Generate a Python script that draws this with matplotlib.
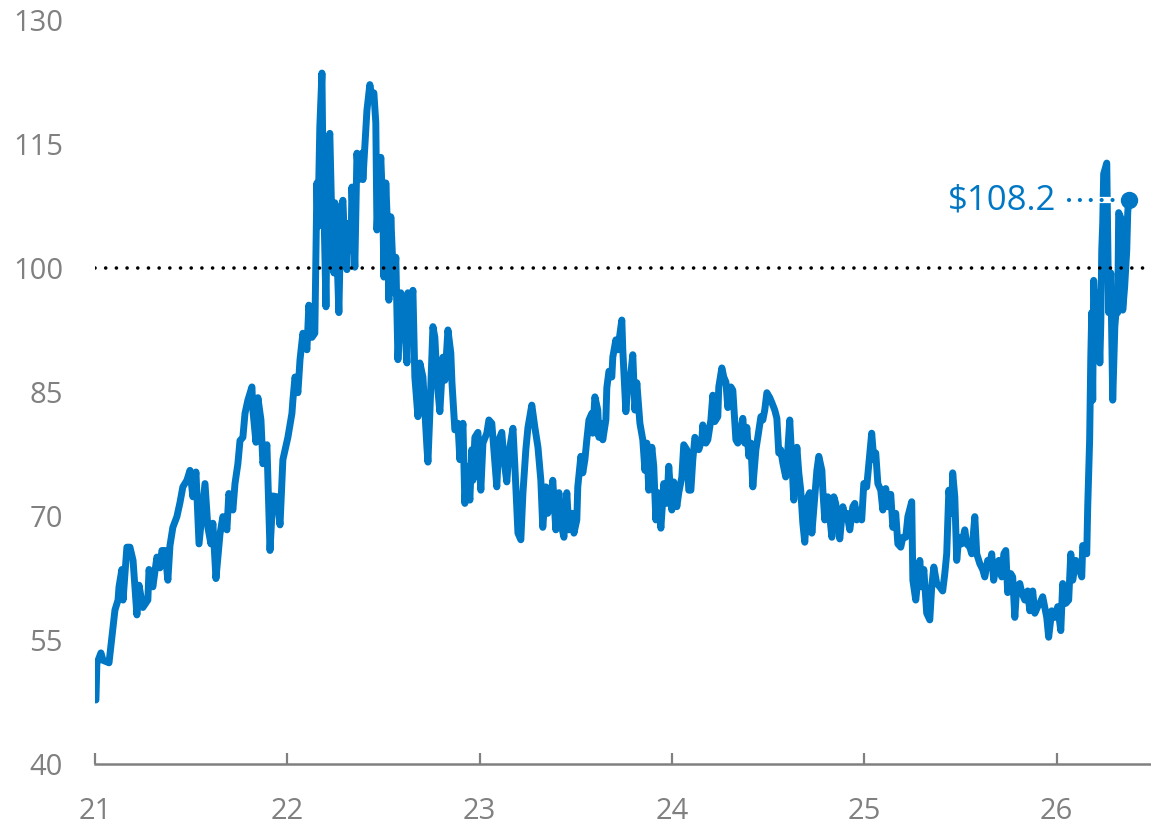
import numpy as np
import matplotlib
matplotlib.use("Agg")
import matplotlib.pyplot as plt

plt.rcParams['font.family'] = ['Open Sans', 'DejaVu Sans']

# price series (x in years, 21 = 2021)
years = [
    21.005, 21.010, 21.031, 21.042, 21.073, 21.088, 21.104, 21.120, 21.125, 21.140,
    21.146, 21.166, 21.182, 21.198, 21.218, 21.229, 21.249, 21.275, 21.281, 21.301,
    21.322, 21.338, 21.348, 21.364, 21.379, 21.390, 21.405, 21.426, 21.442, 21.457,
    21.478, 21.494, 21.509, 21.525, 21.541, 21.572, 21.587, 21.603, 21.613, 21.629,
    21.650, 21.665, 21.686, 21.696, 21.717, 21.728, 21.743, 21.754, 21.769, 21.780,
    21.795, 21.816, 21.821, 21.837, 21.847, 21.863, 21.873, 21.894, 21.910, 21.925,
    21.946, 21.962, 21.977, 22.003,
    22.024, 22.029, 22.040, 22.055, 22.066, 22.081, 22.102, 22.112, 22.128, 22.143,
    22.154, 22.159, 22.169, 22.180, 22.185, 22.201, 22.211, 22.221, 22.232, 22.242,
    22.247, 22.258, 22.268, 22.279, 22.289, 22.299, 22.310, 22.315, 22.331, 22.336,
    22.351, 22.362, 22.372, 22.388, 22.393, 22.403, 22.414, 22.429, 22.440, 22.450,
    22.460, 22.466, 22.476, 22.486, 22.497, 22.502, 22.512, 22.518, 22.528, 22.538,
    22.549, 22.554, 22.564, 22.575, 22.590, 22.601, 22.622, 22.627, 22.637, 22.653,
    22.663, 22.679, 22.689, 22.705, 22.715, 22.726, 22.731, 22.741, 22.757, 22.767,
    22.778, 22.793, 22.809, 22.819, 22.835, 22.850, 22.856, 22.871, 22.887, 22.897,
    22.913, 22.923, 22.933,
    22.949, 22.959, 22.965, 22.975, 22.991, 23.006, 23.017, 23.037, 23.048, 23.063,
    23.074, 23.089, 23.100, 23.115, 23.126, 23.141, 23.152, 23.173, 23.183, 23.199,
    23.214, 23.225, 23.240, 23.251, 23.271, 23.287, 23.303, 23.318, 23.328, 23.344,
    23.354, 23.370, 23.380, 23.396, 23.412, 23.427, 23.438, 23.453, 23.464, 23.479,
    23.490, 23.505, 23.510, 23.526, 23.536, 23.547, 23.557, 23.568, 23.583, 23.588,
    23.599, 23.614, 23.620, 23.630, 23.640, 23.656, 23.661, 23.672, 23.687, 23.692,
    23.708, 23.718, 23.739, 23.744, 23.760, 23.770, 23.786, 23.796, 23.807, 23.817,
    23.833, 23.848, 23.859, 23.869, 23.879, 23.895, 23.905, 23.916, 23.926, 23.942,
    23.957, 23.973, 23.983, 23.999, 24.009, 24.025, 24.035, 24.051, 24.061, 24.077,
    24.087, 24.098, 24.108, 24.119, 24.129, 24.139, 24.155, 24.160, 24.176, 24.186,
    24.202, 24.212, 24.222, 24.238, 24.243, 24.259, 24.269, 24.280, 24.290, 24.306,
    24.316, 24.332, 24.342, 24.358, 24.368, 24.378, 24.389, 24.399, 24.410, 24.420,
    24.436, 24.446, 24.462, 24.472, 24.482, 24.493, 24.508, 24.519, 24.534, 24.545,
    24.555, 24.565, 24.576, 24.591, 24.602, 24.612, 24.623, 24.633, 24.649, 24.659,
    24.669, 24.680, 24.690, 24.706, 24.716, 24.727, 24.742, 24.753, 24.763, 24.779,
    24.784, 24.794, 24.810, 24.820, 24.831, 24.841, 24.851, 24.862, 24.872, 24.888,
    24.898, 24.909, 24.924, 24.940, 24.950, 24.960,
    24.976, 24.986, 24.997, 25.012, 25.023, 25.038, 25.049, 25.059, 25.070, 25.085,
    25.096, 25.111, 25.122, 25.137, 25.148, 25.163, 25.174, 25.189, 25.200, 25.215,
    25.226, 25.246, 25.252, 25.267, 25.278, 25.288, 25.298, 25.309, 25.324, 25.340,
    25.350, 25.361, 25.376, 25.392, 25.407, 25.418, 25.428, 25.439, 25.454, 25.459,
    25.470, 25.480, 25.491, 25.506, 25.522, 25.532, 25.548, 25.558, 25.574, 25.584,
    25.600, 25.615, 25.626, 25.641, 25.652, 25.662, 25.672, 25.688, 25.699, 25.714,
    25.725, 25.735, 25.745, 25.761, 25.771, 25.782, 25.792, 25.808, 25.818, 25.834,
    25.849, 25.860, 25.875, 25.886, 25.901,
    25.912, 25.927, 25.948, 25.958, 25.974, 25.990, 26.005, 26.021, 26.031, 26.047,
    26.062, 26.073, 26.083, 26.099, 26.114, 26.130, 26.135, 26.156, 26.161, 26.171,
    26.177, 26.182, 26.187, 26.192, 26.203, 26.213, 26.224, 26.229, 26.234, 26.239,
    26.244, 26.260, 26.265, 26.270, 26.281, 26.286, 26.291, 26.302, 26.312, 26.317,
    26.322, 26.338, 26.343, 26.353, 26.364, 26.369, 26.374,
]
prices = [
    47.7, 52.1, 53.4, 52.5, 52.2, 55.3, 58.6, 59.8, 61.4, 63.5,
    59.8, 66.2, 66.2, 64.6, 58.0, 61.6, 58.9, 59.8, 63.5, 61.4,
    65.0, 63.7, 65.8, 65.8, 62.2, 66.4, 68.6, 69.9, 71.6, 73.5,
    74.3, 75.5, 72.3, 75.3, 66.6, 73.9, 68.6, 66.6, 69.1, 62.4,
    67.8, 69.9, 68.3, 72.7, 70.7, 73.9, 76.3, 79.1, 79.5, 82.4,
    84.0, 85.6, 82.8, 78.9, 84.3, 81.6, 76.3, 78.6, 65.8, 72.4,
    72.3, 68.9, 76.8, 79.5,
    82.4, 84.0, 86.8, 84.9, 88.9, 92.1, 90.1, 95.5, 91.6, 92.1,
    110.3, 105.0, 117.1, 123.6, 113.1, 95.3, 114.6, 116.3, 105.0, 99.4,
    107.9, 101.8, 94.6, 107.0, 108.2, 102.2, 99.8, 105.4, 102.2, 109.8,
    100.1, 113.9, 110.7, 113.9, 110.7, 114.6, 119.1, 122.2, 120.7, 121.2,
    117.6, 104.6, 109.8, 113.4, 106.7, 98.9, 110.3, 106.7, 96.1, 106.2,
    100.1, 97.0, 101.3, 88.9, 97.0, 96.1, 88.5, 97.0, 94.6, 97.3,
    86.8, 82.0, 88.5, 86.8, 82.6, 78.2, 76.5, 82.4, 92.9, 91.6,
    86.4, 82.6, 89.2, 86.4, 92.5, 89.7, 86.1, 80.4, 81.2, 76.8,
    81.2, 71.5, 76.0,
    71.9, 78.0, 74.3, 79.5, 80.1, 73.1, 78.8, 80.0, 81.6, 81.2,
    78.0, 73.5, 79.2, 80.1, 76.8, 74.1, 77.6, 80.6, 76.0, 67.9,
    67.1, 72.8, 78.0, 80.7, 83.4, 80.7, 78.3, 74.3, 68.6, 73.5,
    70.3, 71.9, 74.3, 68.3, 72.8, 68.6, 67.4, 72.8, 68.3, 70.3,
    67.9, 69.5, 73.5, 77.2, 75.2, 76.8, 79.2, 81.6, 82.4, 80.0,
    84.4, 82.8, 79.5, 81.2, 79.2, 81.6, 85.5, 87.5, 86.8, 89.2,
    91.3, 90.1, 93.7, 90.1, 82.6, 85.6, 87.3, 89.5, 82.8, 86.1,
    81.2, 79.2, 75.5, 78.8, 73.1, 78.3, 76.0, 69.5, 72.8, 68.5,
    73.9, 71.5, 76.0, 70.7, 74.1, 71.1, 72.8, 74.7, 78.6, 78.0,
    73.1, 73.1, 76.8, 79.5, 78.8, 78.0, 79.2, 81.0, 78.8, 79.2,
    81.6, 84.6, 81.4, 82.0, 85.6, 87.9, 86.8, 86.2, 83.1, 85.6,
    85.2, 79.2, 78.8, 80.4, 81.8, 78.8, 80.7, 77.2, 78.8, 73.5,
    78.0, 79.5, 82.0, 81.6, 82.8, 84.9, 84.3, 83.7, 82.8, 81.8,
    77.6, 78.0, 76.4, 74.7, 78.0, 81.6, 76.4, 71.9, 78.3, 75.2,
    73.1, 69.1, 66.8, 72.3, 72.8, 67.9, 72.3, 75.5, 77.2, 75.5,
    73.1, 69.5, 72.3, 69.9, 67.4, 72.3, 71.5, 69.1, 67.2, 71.1,
    69.9, 70.3, 68.3, 71.1, 71.5, 69.5,
    70.7, 69.5, 73.9, 73.5, 76.3, 80.0, 76.8, 77.6, 73.9, 73.1,
    70.7, 73.3, 71.1, 72.6, 68.6, 70.3, 66.6, 66.2, 67.4, 67.4,
    69.9, 71.7, 62.2, 59.8, 62.2, 64.6, 61.4, 63.5, 58.2, 57.4,
    61.4, 63.8, 61.8, 61.4, 60.9, 63.0, 65.4, 73.1, 70.3, 75.2,
    72.3, 64.6, 67.4, 66.6, 68.3, 66.6, 66.2, 65.4, 69.9, 65.4,
    64.2, 63.5, 62.6, 64.6, 64.2, 65.4, 62.2, 64.2, 64.6, 62.6,
    65.4, 65.8, 60.7, 63.0, 62.6, 57.7, 61.4, 61.8, 60.7, 59.8,
    60.9, 58.5, 60.9, 58.2, 59.0,
    59.4, 60.2, 57.7, 55.3, 58.5, 57.7, 59.0, 56.1, 61.8, 59.4,
    59.8, 65.4, 62.2, 64.6, 63.8, 62.6, 66.4, 65.4, 71.1, 79.2,
    89.2, 94.6, 84.0, 98.5, 92.9, 97.0, 88.5, 93.3, 102.2, 105.4,
    111.4, 112.7, 103.4, 94.6, 99.4, 91.3, 84.0, 92.9, 95.8, 94.6,
    106.7, 105.8, 94.9, 97.7, 102.2, 106.7, 108.2,
]

year_ticks = [21, 22, 23, 24, 25, 26]
price_ticks = [40, 55, 70, 85, 100, 115, 130]
reference_level = 100
last_label = "$108.2"

blue = "#0077c5"
grey = "#808080"

fig = plt.figure(figsize=(11.51, 8.24), dpi=100)
ax = fig.add_axes([0.0825, 0.0733, 0.9175, 0.9022])

ax.plot(years, prices, color=blue, lw=5.0, solid_joinstyle="round",
        solid_capstyle="round", zorder=3)

# dotted reference line at 100
ax.axhline(reference_level, color="black", lw=2.6, ls=(0, (0.01, 2.95)),
           dash_capstyle="round", zorder=4)

# end label with dotted leader
x_end, y_end = years[-1], prices[-1]
x_lead0 = x_end - 0.31
ax.plot([x_lead0, x_end], [y_end, y_end], color="white", lw=4.5, zorder=4)
ax.plot([x_lead0, x_end], [y_end, y_end], color=blue, lw=3.0,
        ls=(0, (0.01, 2.6)), dash_capstyle="round", zorder=5)
ax.plot([x_end], [y_end], "o", color=blue, ms=11.5, zorder=6)
ax.text(x_lead0 - 0.065, y_end, last_label, color=blue, fontsize=25,
        ha="right", va="center", zorder=6)

ax.set_xlim(21, 26.49)
ax.set_ylim(40, 130)
ax.set_xticks(year_ticks)
ax.set_xticklabels([str(t) for t in year_ticks])
ax.set_yticks(price_ticks)
ax.set_yticklabels([str(t) for t in price_ticks])

for s in ["top", "right", "left"]:
    ax.spines[s].set_visible(False)
ax.spines["bottom"].set_color(grey)
ax.spines["bottom"].set_linewidth(1.8)

ax.tick_params(axis="x", direction="in", length=8, width=1.6, color=grey,
               labelcolor=grey, labelsize=21, pad=24)
ax.tick_params(axis="y", length=0, labelcolor=grey, labelsize=21, pad=23)

fig.savefig("out.png", dpi=100)
